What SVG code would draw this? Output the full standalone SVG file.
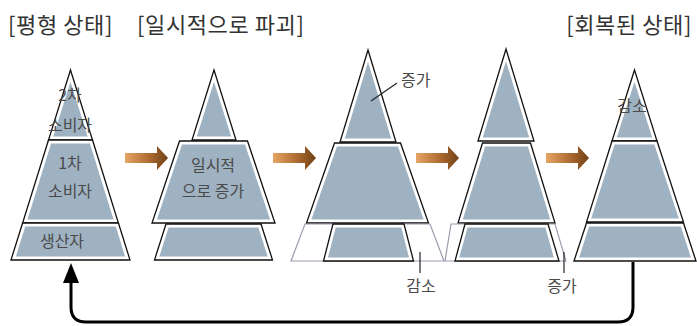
<svg xmlns="http://www.w3.org/2000/svg" width="697" height="326" viewBox="0 0 697 326">
<defs>
<linearGradient id="brown" x1="0" y1="0" x2="1" y2="0">
<stop offset="0" stop-color="#e6a465"/>
<stop offset="0.6" stop-color="#a8672e"/>
<stop offset="1" stop-color="#6e4016"/>
</linearGradient>
<path id="arrow" d="M0,-5 H32 V-12 L43,0 L32,12 V5 H0 Z" fill="url(#brown)"/>
</defs>
<style>
.t{fill:#fff;stroke:#111;stroke-width:1.3;stroke-linejoin:miter}
.b{fill:#9fb2c2}
.g{fill:none;stroke:#9a9cae;stroke-width:1.2}
.title{font-family:"Noto Sans CJK KR",sans-serif;font-size:22px;letter-spacing:0.6px;fill:#333}
.lab{font-family:"Noto Sans CJK KR",sans-serif;font-size:16px;fill:#4a4a4a;text-anchor:middle}
.lead{stroke:#222;stroke-width:1.2;fill:none}
</style>
<g id="titles">
<text class="title" x="8" y="33">[평형 상태]</text>
<text class="title" x="137" y="33">[일시적으로 파괴]</text>
<text class="title" x="692" y="33" text-anchor="end">[회복된 상태]</text>
</g>
<g id="pyramid1">
<polygon class="t" points="70.5,70 92.5,140 48.5,140"/>
<polygon class="b" points="70.5,81.7 87.7,136.5 53.3,136.5"/>
<polygon class="t" points="48.5,140 92.5,140 118.4,223 22.6,223"/>
<polygon class="b" points="51.1,143.5 89.9,143.5 113.6,219.5 27.4,219.5"/>
<polygon class="t" points="22.6,223 118.4,223 130,260 11,260"/>
<polygon class="b" points="25.2,226.5 115.8,226.5 125.1,256.5 15.9,256.5"/>
<text class="lab" x="70" y="101">2차</text>
<text class="lab" x="70" y="131">소비자</text>
<text class="lab" x="70" y="169">1차</text>
<text class="lab" x="70" y="197">소비자</text>
<text class="lab" x="62" y="247">생산자</text>
</g>
<g id="pyramid2">
<polygon class="t" points="214,70 236,140 192,140"/>
<polygon class="b" points="214,81.7 231.2,136.5 196.8,136.5"/>
<polygon class="t" points="179.5,141 247.5,141 275,223 152,223"/>
<polygon class="b" points="182,144.5 245,144.5 270.1,219.5 156.9,219.5"/>
<polygon class="t" points="166,224 261,224 272.5,260 154.5,260"/>
<polygon class="b" points="168.6,227.5 258.4,227.5 267.7,256.5 159.3,256.5"/>
<text class="lab" x="213" y="171">일시적</text>
<text class="lab" x="213" y="197">으로 증가</text>
</g>
<g id="pyramid3">
<polygon class="t" points="368,50 396,142 340,142"/>
<polygon class="b" points="368,62 391.2,138.5 344.8,138.5"/>
<polygon class="t" points="334.5,143 400.5,143 428.5,223 306.5,223"/>
<polygon class="b" points="337,146.5 398,146.5 423.6,219.5 311.4,219.5"/>
<polygon class="g" points="305,224 430,224 444,261 291,261"/>
<polygon class="t" points="333,224 404,224 413.5,261 323.5,261"/>
<polygon class="b" points="335.7,227.5 401.3,227.5 409,257.5 328,257.5"/>
<line class="lead" x1="371" y1="101" x2="397" y2="83"/>
<text class="lab" x="401" y="86" style="text-anchor:start">증가</text>
<line class="lead" x1="420" y1="252" x2="420" y2="273"/>
<text class="lab" x="421" y="292">감소</text>
</g>
<g id="pyramid4">
<polygon class="t" points="506,49 534,141 478,141"/>
<polygon class="b" points="506,61 529.2,137.5 482.8,137.5"/>
<polygon class="t" points="482.5,143 530.5,143 555,223 458,223"/>
<polygon class="b" points="485.1,146.5 527.9,146.5 550.2,219.5 462.8,219.5"/>
<polygon class="g" points="451,224 555,224 566,261 445,261"/>
<polygon class="t" points="465,224 548,224 559,261 455,261"/>
<polygon class="b" points="467.6,227.5 545.4,227.5 553.8,257.5 459.2,257.5"/>
<line class="lead" x1="564" y1="252" x2="564" y2="273"/>
<text class="lab" x="562" y="292">증가</text>
</g>
<g id="pyramid5">
<polygon class="t" points="634.5,70 657,141 612,141"/>
<polygon class="b" points="634.5,81.7 652.2,137.5 616.8,137.5"/>
<polygon class="t" points="612,141 657,141 683.5,222 586.5,222"/>
<polygon class="b" points="614.6,144.5 654.4,144.5 678.8,218.5 591.2,218.5"/>
<polygon class="t" points="586.5,223 683.5,223 696,261 574,261"/>
<polygon class="b" points="589.1,226.5 680.9,226.5 690.9,257.5 579.1,257.5"/>
<text class="lab" x="632" y="112">감소</text>
</g>
<g id="connectors">
<use href="#arrow" x="125" y="158"/>
<use href="#arrow" x="273" y="158"/>
<use href="#arrow" x="416" y="158"/>
<use href="#arrow" x="546" y="158"/>
<path d="M633,262 V307 Q633,322 618,322 H86 Q71,322 71,307 V281" fill="none" stroke="#000" stroke-width="3"/>
<polygon points="71,263 79,283 63,283" fill="#000"/>
</g>
</svg>
